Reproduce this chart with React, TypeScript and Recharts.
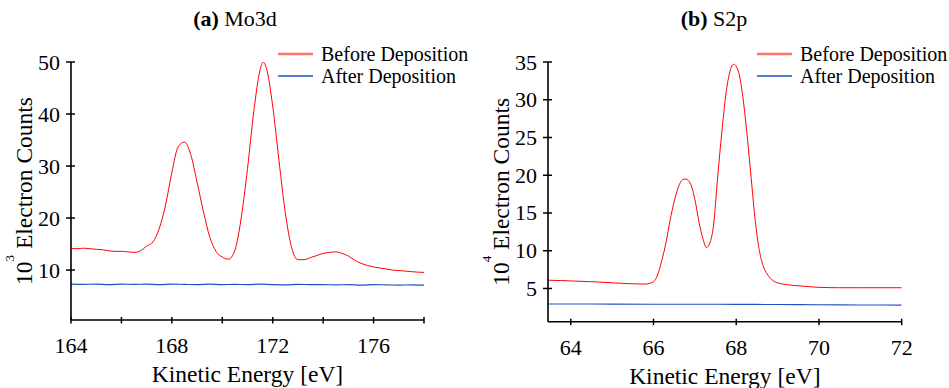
import React from "react";
import { LineChart, Line, XAxis, YAxis, Legend, Label } from "recharts";

const FONT = "Liberation Serif, DejaVu Serif, serif";
const RED = "#ff0000";
const BLUE = "#2050c8";

const seriesNames = ["Before Deposition", "After Deposition"];

// (a) Mo3d
const moEnergy = [
  164, 164.25, 164.5, 164.75, 165, 165.25, 165.5, 165.75, 166, 166.25, 166.5,
  166.75, 167, 167.25, 167.5, 167.75, 168, 168.25, 168.5, 168.75, 169, 169.25,
  169.5, 169.75, 170, 170.25, 170.5, 170.75, 171, 171.25, 171.5, 171.625,
  171.75, 172, 172.25, 172.5, 172.75, 173, 173.25, 173.5, 173.75, 174, 174.25,
  174.5, 174.75, 175, 175.25, 175.5, 175.75, 176, 176.25, 176.5, 176.75, 177,
  177.25, 177.5, 177.75, 178,
];
const moBefore = [
  14.2, 14.1, 14.2, 14.1, 14.0, 13.9, 13.7, 13.6, 13.6, 13.5, 13.4, 13.7, 14.6,
  15.4, 18.0, 22.5, 28.8, 33.7, 34.6, 32.2, 26.9, 21.3, 16.4, 13.6, 12.5, 12.1,
  13.8, 20.0, 29.5, 40.5, 48.5, 50.0, 48.8, 41.5, 31.0, 21.0, 14.3, 12.0, 12.0,
  12.4, 12.8, 13.2, 13.4, 13.5, 13.2, 12.7, 11.9, 11.3, 10.9, 10.6, 10.4, 10.2,
  10.0, 9.9, 9.8, 9.7, 9.6, 9.55,
];
const moAfterEnergy = [
  164, 164.5, 165, 165.5, 166, 166.5, 167, 167.5, 168, 168.5, 169, 169.5, 170,
  170.5, 171, 171.5, 172, 172.5, 173, 173.5, 174, 174.5, 175, 175.5, 176, 176.5,
  177, 177.5, 178,
];
const moAfter = [
  7.3, 7.25, 7.3, 7.2, 7.3, 7.25, 7.3, 7.2, 7.3, 7.25, 7.2, 7.3, 7.2, 7.25, 7.2,
  7.3, 7.2, 7.15, 7.25, 7.2, 7.2, 7.15, 7.2, 7.1, 7.2, 7.15, 7.1, 7.15, 7.1,
];
const moXTicks = [164, 166, 168, 170, 172, 174, 176, 178];
const moXLabels = [164, 168, 172, 176];
const moYTicks = [10, 20, 30, 40, 50];

// (b) S2p
const sEnergy = [
  63.45, 63.75, 64, 64.5, 65, 65.5, 65.8, 66, 66.1, 66.2, 66.3, 66.4, 66.5,
  66.6, 66.7, 66.78, 66.9, 67, 67.1, 67.2, 67.28, 67.36, 67.45, 67.55, 67.65,
  67.75, 67.85, 67.94, 68.05, 68.15, 68.25, 68.35, 68.45, 68.55, 68.65, 68.75,
  68.9, 69, 69.25, 69.5, 69.75, 70, 70.5, 71, 71.5, 72,
];
const sBefore = [
  6.1, 6.05, 6.0, 5.9, 5.75, 5.62, 5.58, 5.9, 6.8, 8.7, 11.0, 14.0, 16.5, 18.4,
  19.4, 19.5, 18.8, 16.8, 13.8, 11.5, 10.4, 11.0, 13.3, 19.7, 25.6, 30.7, 33.8,
  34.7, 33.8, 30.8, 26.0, 20.3, 14.5, 10.3, 8.0, 6.9, 6.0, 5.75, 5.5, 5.35,
  5.25, 5.15, 5.1, 5.1, 5.1, 5.1,
];
const sAfterEnergy = [63.45, 64, 65, 66, 67, 68, 69, 70, 71, 72];
const sAfter = [2.95, 2.95, 2.93, 2.92, 2.92, 2.9, 2.88, 2.85, 2.82, 2.8];
const sXTicks = [64, 66, 68, 70, 72];
const sYTicks = [5, 10, 15, 20, 25, 30, 35];

const toRows = (xs: number[], ys: number[]) =>
  xs.map((e, i) => ({ e, v: ys[i] }));

const txt = (size: number) => ({ fontFamily: FONT, fontSize: size, fill: "#000" });

const XTick = ({ x, y, payload, labels }: any) => (
  <g>
    <line x1={x} x2={x} y1={y - 3} y2={y + 3.5} stroke="#000" strokeWidth={1.5} />
    {labels.includes(payload.value) && (
      <text x={x} y={y + 33} textAnchor="middle" style={txt(22)}>
        {payload.value}
      </text>
    )}
  </g>
);

const YTick = ({ x, y, payload }: any) => (
  <g>
    <line x1={x - 5} x2={x + 4} y1={y} y2={y} stroke="#000" strokeWidth={1.5} />
    <text x={x - 11} y={y + 7.5} textAnchor="end" style={txt(22)}>
      {payload.value}
    </text>
  </g>
);

const xLabel = (props: any) => {
  const { x, y, width } = props.viewBox;
  return (
    <text x={x + width / 2} y={y + 62} textAnchor="middle" style={txt(23.5)}>
      Kinetic Energy [eV]
    </text>
  );
};

const yLabel = (exp: string) => (props: any) => {
  const { x, y, width, height } = props.viewBox;
  const bx = x + width - 39;
  const cy = y + height / 2;
  return (
    <text
      transform={`translate(${bx},${cy}) rotate(-90)`}
      textAnchor="middle"
      style={txt(23.5)}
    >
      10
      <tspan dy={-18} style={{ fontSize: 13 }}>
        {exp}
      </tspan>
      <tspan dy={18} style={{ fontSize: 23.5 }}>
        {" Electron Counts"}
      </tspan>
    </text>
  );
};

const sampleStyle: Record<string, { stroke: string; width: number; opacity: number }> = {
  "Before Deposition": { stroke: RED, width: 2.5, opacity: 0.55 },
  "After Deposition": { stroke: BLUE, width: 1.3, opacity: 1 },
};

const LegendBox = ({ payload }: any) => {
  const items = [...(payload || [])].sort(
    (a: any, b: any) => seriesNames.indexOf(a.value) - seriesNames.indexOf(b.value)
  );
  return (
    <div style={{ fontFamily: FONT, fontSize: 20, lineHeight: "22px", color: "#000" }}>
      {items.map((p: any) => (
        <div
          key={p.value}
          style={{ display: "flex", alignItems: "center", whiteSpace: "nowrap" }}
        >
          <svg width={35} height={22}>
            <line
              x1={0}
              x2={35}
              y1={11}
              y2={11}
              stroke={sampleStyle[p.value].stroke}
              strokeWidth={sampleStyle[p.value].width}
              strokeOpacity={sampleStyle[p.value].opacity}
            />
          </svg>
          <span style={{ marginLeft: 8 }}>{p.value}</span>
        </div>
      ))}
    </div>
  );
};

type PanelProps = {
  width: number;
  margin: { top: number; right: number; bottom: number; left: number };
  xDomain: [number, number];
  yDomain: [number, number];
  xTicks: number[];
  xLabels: number[];
  yTicks: number[];
  before: { e: number; v: number }[];
  after: { e: number; v: number }[];
  exp: string;
  legendLeft: number;
};

const Panel = (p: PanelProps) => (
  <LineChart width={p.width} height={388} margin={p.margin}>
    <XAxis
      dataKey="e"
      type="number"
      domain={p.xDomain}
      ticks={p.xTicks}
      allowDataOverflow
      height={40}
      tickSize={0}
      tickMargin={0}
      tickLine={false}
      axisLine={{ stroke: "#000", strokeWidth: 1.6 }}
      tick={(t: any) => <XTick {...t} labels={p.xLabels} />}
      interval={0}
    >
      <Label content={xLabel} />
    </XAxis>
    <YAxis
      type="number"
      domain={p.yDomain}
      ticks={p.yTicks}
      allowDataOverflow
      width={60}
      tickSize={0}
      tickMargin={0}
      tickLine={false}
      axisLine={{ stroke: "#000", strokeWidth: 1.6 }}
      tick={(t: any) => <YTick {...t} />}
      interval={0}
    >
      <Label content={yLabel(p.exp)} />
    </YAxis>
    <Legend
      layout="horizontal"
      verticalAlign="middle"
      align="center"
      content={<LegendBox />}
      wrapperStyle={{ left: p.legendLeft, top: 43, width: "auto" }}
    />
    <Line
      data={p.before}
      dataKey="v"
      name={seriesNames[0]}
      type="monotone"
      stroke={RED}
      strokeWidth={1}
      dot={false}
      isAnimationActive={false}
    />
    <Line
      data={p.after}
      dataKey="v"
      name={seriesNames[1]}
      type="monotone"
      stroke={BLUE}
      strokeWidth={1.1}
      dot={false}
      isAnimationActive={false}
    />
  </LineChart>
);

export default function App() {
  return (
    <div
      style={{
        position: "absolute",
        left: 0,
        top: 0,
        width: 949,
        height: 388,
        background: "#fff",
      }}
    >
      <div style={{ position: "absolute", left: 0, top: 0 }}>
        <Panel
          width={475}
          margin={{ top: 62, right: 51, bottom: 28, left: 11 }}
          xDomain={[164, 178]}
          yDomain={[0.4, 50]}
          xTicks={moXTicks}
          xLabels={moXLabels}
          yTicks={moYTicks}
          before={toRows(moEnergy, moBefore)}
          after={toRows(moAfterEnergy, moAfter)}
          exp="3"
          legendLeft={278}
        />
      </div>
      <div style={{ position: "absolute", left: 475, top: 0 }}>
        <Panel
          width={474}
          margin={{ top: 62, right: 47.3, bottom: 26.3, left: 13 }}
          xDomain={[63.45, 72]}
          yDomain={[0.6, 35]}
          xTicks={sXTicks}
          xLabels={sXTicks}
          yTicks={sYTicks}
          before={toRows(sEnergy, sBefore)}
          after={toRows(sAfterEnergy, sAfter)}
          exp="4"
          legendLeft={282}
        />
      </div>
      <svg
        width={949}
        height={40}
        style={{ position: "absolute", left: 0, top: 0, pointerEvents: "none" }}
      >
        <text x={235} y={26} textAnchor="middle" style={txt(22)}>
          <tspan style={{ fontWeight: "bold" }}>(a)</tspan> Mo3d
        </text>
        <text x={714} y={26} textAnchor="middle" style={txt(22)}>
          <tspan style={{ fontWeight: "bold" }}>(b)</tspan> S2p
        </text>
      </svg>
    </div>
  );
}
